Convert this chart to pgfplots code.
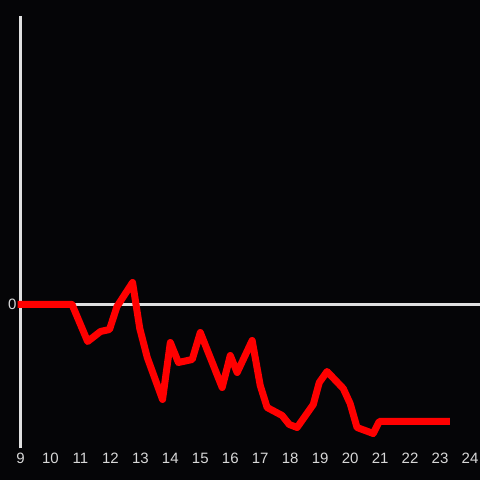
\documentclass[border=0pt]{standalone}
\usepackage{fontspec}
\setmainfont{Liberation Sans}
\usepackage{pgfplots}
\pgfplotsset{compat=1.18}
\definecolor{bg}{HTML}{050507}
\definecolor{axc}{HTML}{E0E0E0}
\definecolor{lab}{HTML}{D8D8D8}
\begin{document}
\begin{tikzpicture}[x=1pt,y=1pt]
\path[use as bounding box, fill=bg] (0,0) rectangle (480,480);
\begin{axis}[
  at={(20.5pt,31.5pt)}, anchor=south west,
  scale only axis, width=459.5pt, height=432pt,
  xmin=9, xmax=24.3333, ymin=-14.4, ymax=28.8,
  axis y line=left, axis x line=bottom,
  x axis line style={draw=none},
  y axis line style={draw=axc, line width=3pt, -},
  xtick={9,...,24}, ytick={0},
  major tick length=0pt, tick style={draw=none},
  /pgf/number format/assume math mode=true,
  ticklabel style={font=\fontsize{15}{17}\selectfont, text=lab},
  xticklabel style={yshift=-1pt},
  yticklabel style={xshift=-0.5pt},
  clip=false,
]
\draw[axc, line width=3pt] (axis cs:9,0) -- (axis cs:24.3333,0);
\addplot[red, line width=7pt, line join=round, mark=none] coordinates {
(8.9,0) (10.72,0) (11.24,-3.7) (11.67,-2.7) (11.97,-2.5) (12.22,-0.2)
(12.74,2.2) (12.98,-2.4) (13.23,-5.3) (13.74,-9.5) (14.0,-3.8)
(14.27,-5.8) (14.73,-5.5) (15.0,-2.8) (15.73,-8.3) (16.0,-5.1)
(16.23,-6.8) (16.73,-3.6) (17.0,-8.1) (17.23,-10.3) (17.73,-11.1)
(17.97,-12.0) (18.23,-12.3) (18.77,-10.0) (18.97,-7.8) (19.23,-6.7)
(19.77,-8.4) (20.0,-9.9) (20.23,-12.3) (20.77,-12.9) (20.97,-11.7)
(23.33,-11.7)
};
\end{axis}
\end{tikzpicture}
\end{document}
